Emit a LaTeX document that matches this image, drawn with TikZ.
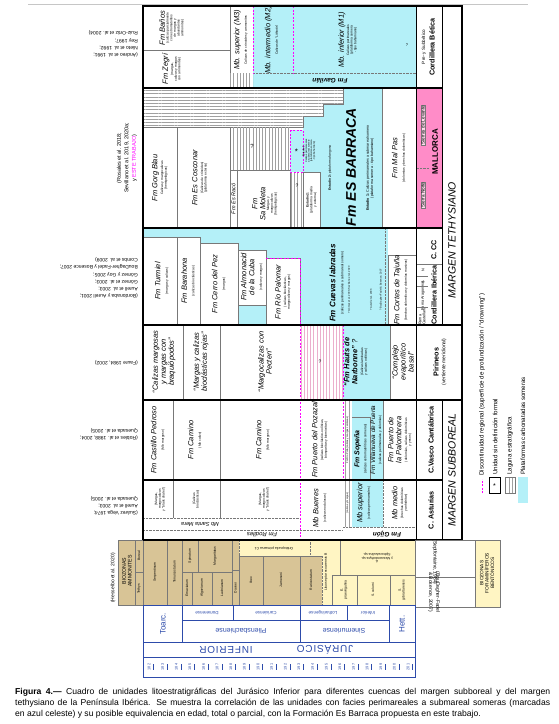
\documentclass[tikz,border=0pt]{standalone}
\usepackage{fontspec}
\setmainfont{Liberation Sans}
\usetikzlibrary{patterns.meta}
\definecolor{cyanP}{RGB}{180,240,248}
\definecolor{tanA}{RGB}{216,196,150}
\definecolor{yelF}{RGB}{255,245,195}
\definecolor{pinkM}{RGB}{255,140,200}
\definecolor{blueT}{RGB}{45,75,170}
\definecolor{magD}{RGB}{255,0,255}
\definecolor{hatchG}{RGB}{160,160,160}
\definecolor{hatchP}{RGB}{235,175,205}
\definecolor{lineG}{RGB}{120,120,120}
\newcommand\szU{\fontsize{7.5}{8}\selectfont\itshape}
\newcommand\szS{\fontsize{3.3}{3.7}\selectfont\upshape\mdseries}
\newcommand\szT{\fontsize{2.5}{2.6}\selectfont\upshape\mdseries}
\newcommand\szR{\fontsize{5}{7.3}\selectfont}
\newcommand\szB{\fontsize{7.2}{8}\selectfont\bfseries}
\newcommand\szZ{\fontsize{3.4}{3.8}\selectfont}
\newcommand\szL{\fontsize{6.2}{6.6}\selectfont}
\newcommand\subt[1]{{\szS\begin{tabular}{@{}c@{}}#1\end{tabular}}}
\tikzset{
  U/.style={rotate=90,align=center,inner sep=0,font=\szU},
  R/.style={rotate=90,align=center,inner sep=0},
  D/.style={rotate=180,align=center,inner sep=0},
  bx/.style={draw=lineG,line width=0.4pt},
  frm/.style={draw=black,line width=1.1pt},
  mag/.style={draw=magD,line width=1pt,dash pattern=on 2pt off 1.5pt},
  dotl/.style={draw=lineG,line width=0.4pt,dash pattern=on 0.6pt off 0.8pt},
  hatchV/.style={pattern={Lines[angle=90,distance=3.2pt,line width=0.35pt]},pattern color=hatchG},
  hatchPV/.style={pattern={Lines[angle=90,distance=3.2pt,line width=0.35pt]},pattern color=hatchP},
  hatchH/.style={pattern={Lines[angle=0,distance=3.2pt,line width=0.35pt]},pattern color=hatchG},
  tb/.style={draw=blueT,line width=0.6pt},
  tt/.style={text=blueT,inner sep=0},
}
\begin{document}
\begin{tikzpicture}[x=1pt,y=-1pt]
\useasboundingbox (0,0) rectangle (558,724);
\fill[white] (0,0) rectangle (558,724);
\draw[gray!45,line width=0.7pt] (28,4) -- (528,4);

% ================= BETICA (6-88)
\fill[cyanP] (253,6) rectangle (416,88);
\draw[bx] (143,50) -- (230,50);
\draw[bx] (230,6) -- (230,88);
\fill[hatchV] (230,73) rectangle (253,88);
\draw[dotl] (253,73) -- (416,73);
\draw[mag] (253,6) -- (253,73);
\draw[mag] (293,6) -- (293,73);
\node[U] (banos) at (172,28) {Fm Baños\\\subt{(calizas parcialmente\\con estromatolitos\\de margas y\\abundantes\\ammonites)}};
\node[U] (zegri) at (172,69) {Fm Zegrí\\\subt{(margas,\\calizas y margas\\con ammonites)}};
\node[U] (m3) at (241,40) {Mb. superior (M3)\\\subt{Calizas de crinoides y ammonites}};
\node[U] (m2) at (272,40) {Mb. intermedio (M2)\\\subt{Calizas de “Lithiotis”}};
\node[U] (m1) at (348,40) {Mb. inferior (M1)\\\subt{Calizas perimareales\\(plataforma somera\\- tipo bahamiano)}};
\node[D,font=\fontsize{6.5}{7}\selectfont\bfseries\itshape] (gav) at (330,81) {Fm Gavilán};
\node[inner sep=0,font=\fontsize{4}{4}\selectfont] (q1) at (407,45) {?};

% ================= MALLORCA (88-228)
\fill[cyanP] (303,88) rectangle (382,228);
\filldraw[fill=white,bx] (143,88) -- (343,88) -- (343,104) -- (323,104) -- (323,116) -- (303,116) -- (303,127) -- (143,127) -- cycle;
\fill[hatchH] (143,88) -- (343,88) -- (343,104) -- (323,104) -- (323,116) -- (303,116) -- (303,127) -- (143,127) -- cycle;
\fill[hatchV] (230,127) rectangle (290,170);
\fill[hatchV] (290,172) rectangle (303,228);
\draw[bx] (143,127) rectangle (177,228);
\draw[bx] (177,127) rectangle (230,228);
\draw[bx] (230,170) rectangle (237,228);
\draw[bx] (237,170) rectangle (290,228);
\draw[dotl] (230,170) -- (290,170);
\fill[cyanP] (290,130) rectangle (303,172);
\draw[mag] (290,130) rectangle (303,172);
\draw[mag] (303,172) -- (303,228);
\filldraw[fill=white,bx] (303,172) rectangle (320,228);
\draw[bx] (382,88) -- (382,228);
\node[U] (gorg) at (160,178) {Fm Gorg Blau\\\subt{Calizas y margocalizas\\(hemipelágicas)}};
\node[U] (cosc) at (200,178) {Fm Es Cosconar\\\subt{(Calizas de crinoides)\\(plataforma externa)}};
\node[inner sep=0,font=\fontsize{6}{6}\selectfont] (q2) at (252,146) {?};
\node[R,font=\fontsize{5.5}{6}\selectfont\itshape] (raco) at (233.5,199) {Fm Es Racó};
\node[U] (molt) at (265,204) {Fm\\Sa Moleta\\\subt{Margas y\\margocalizas\\(hemipelágicas)}};
\node[inner sep=0,font=\fontsize{5}{5}\selectfont] (q3) at (297,186) {?};
\node[inner sep=0,font=\fontsize{8}{8}\selectfont] (star) at (296.5,152) {*};
\node[R,font=\szT] (est3) at (309,151) {\textbf{Estadio 3:}\\Calizas perimareales\\a submareal somero\\(plataforma somera\\- tipo bahamiano)};
\node[R,font=\szS] (est2a) at (311.5,200) {\textbf{Estadio 2:}\\(plataforma media\\y externa)};
\node[R,font=\szS] (est2b) at (330,168) {\textbf{Estadio 2:} plataforma fangosa};
\node[R,font=\fontsize{14}{14}\selectfont\bfseries\itshape] (barr) at (351,167) {Fm ES BARRACA};
\node[R,font=\fontsize{3.6}{4.2}\selectfont] (est1) at (370,168) {\textbf{Estadio 1:} Calizas perimareales a submareal somero\\(plataforma somera - tipo bahamiano)};
\node[U] (malp) at (399,158) {Fm Mal Pas\\\subt{(dolomías y brechas dolomíticas)}};

% ================= IBERICA (228-325)
\fill[cyanP] (143,228) rectangle (388,325);
\filldraw[fill=white,bx] (143,237) rectangle (177,325);
\filldraw[fill=white,bx] (177,237) rectangle (200,325);
\filldraw[fill=white,bx] (200,243) rectangle (238,325);
\filldraw[fill=white,bx] (238,250) rectangle (266,305);
\filldraw[fill=white,bx] (266,258) rectangle (300,325);
\draw[mag] (266,258) -- (300,258) -- (300,325);
\filldraw[fill=white,bx] (388,255) rectangle (416,325);
\draw[dotl] (385,228) -- (385,325);
\node[U] (turm) at (162,281) {Fm Turmiel\\\subt{(margas y calizas)}};
\node[U] (bara) at (188.5,281) {Fm Barahona\\\subt{(calizas bioclásticas)}};
\node[U] (pez) at (219,284) {Fm Cerro del Pez\\\subt{(margas)}};
\node[U] (almo) at (252,277) {Fm Almonacid\\de la Cuba\\\subt{(calizas y margas)}};
\node[U] (palo) at (283,292) {Fm Río Palomar\\\subt{(calizas bioclásticas,\\margocalizas y margas)}};
\node[R,font=\fontsize{8}{8.5}\selectfont\bfseries\itshape] (cuev) at (337,283) {Fm Cuevas labradas\\\subt{(calizas perimareales a submareal somero)}};
\node[R,font=\szT] (rf1) at (349,290) {? Gómez et al. 2003; Sevillano et al. 2020};
\node[R,font=\szT] (rf2) at (371,300) {? Aurell et al. 2003};
\node[R,font=\szT] (rf3) at (381,290) {? BouDagher-Fadel \& Bosence, 2007};
\node[U] (cort) at (401,290) {Fm Cortes de Tajuña\\\subt{(brechas dolomíticas y dolomías masivas)}};

% ================= PIRINEOS (325-400)
\draw[bx] (183,325) -- (183,400);
\draw[bx] (220,325) -- (220,400);
\fill[hatchPV] (300,325) rectangle (343,400);
\fill[cyanP] (343,325) rectangle (390,400);
\draw[bx] (390,325) -- (390,400);
\node[U] (pir1) at (164,362) {“Calizas margosas\\y margas con\\braquiópodos”};
\node[U] (pir2) at (201,362) {“Margas y calizas\\bioclásticas rojas”};
\node[U] (pir3) at (265,362) {“Margocalizas con\\Pecten”};
\node[inner sep=0,font=\fontsize{5}{5}\selectfont] (q4) at (320,362) {?};
\node[U] (haut) at (356,362) {\textbf{“Fm Hauts de}\\\textbf{Narbonne”} ?\\\subt{(Calizas laminadas\\y calizas oolíticas)}};
\node[U] (comp) at (403,362) {“Complejo\\evaporítico\\basal”};

% ================= VASCO-CANTABRICA (400-480)
\draw[bx] (173,400) -- (173,480);
\draw[bx] (220,400) -- (220,480);
\fill[hatchV] (343,400) rectangle (352,480);
\fill[cyanP] (352,400) rectangle (383,480);
\draw[bx] (352,417) -- (370,417) -- (370,480);
\draw[bx] (383,400) -- (383,480);
\node[U] (cast) at (158,440) {Fm Castillo Pedroso\\\subt{(Mb margoso)}};
\node[U] (cam1) at (195,440) {Fm Camino\\\subt{(Mb calizo)}};
\node[U] (cam2) at (263,440) {Fm Camino\\\subt{(Mb margoso)}};
\node[U] (poza) at (320,440) {Fm Puerto del Pozazal\\\subt{(calizas bioclástico-oolíticas,\\biosparitas y biomicritas)}};
\node[R,font=\szT] (polla) at (347.5,440) {Fm Río Polla (calizas y margas calcáreas)};
\node[R,font=\fontsize{7}{7.5}\selectfont\bfseries\itshape] (sope) at (361,449) {Fm Sopeña\\\subt{(calizas estromatolíticas someras)}};
\node[R,font=\fontsize{6.3}{6.5}\selectfont\itshape] (vill) at (376.5,440) {Fm Villanueva de Puerta\\\subt{(calizas perimareales y dolomías)}};
\node[U] (palb) at (400,440) {Fm Puerto de\\la Palombrera\\\subt{(dolomías, calizas dolomíticas\\y yesos)}};

% ================= ASTURIAS (480-540)
\draw[bx] (173,480) -- (173,518);
\draw[bx] (220,480) -- (220,518);
\draw[dotl] (143,518) -- (300,518);
\draw[dotl] (143,530) -- (343,530);
\fill[hatchV] (343,480) rectangle (352,527);
\fill[cyanP] (352,480) rectangle (383,527);
\draw[dotl] (383,480) -- (383,527);
\draw[dotl] (343,527) -- (416,527);
\node[R,font=\szS] (ast1) at (160,499) {(Margas,\\margocalizas\\y “black shales”)};
\node[R,font=\szS] (ast2) at (196,499) {(Calizas\\bioclásticas)};
\node[R,font=\szS] (ast3) at (264,499) {(Margas,\\margocalizas\\y “black shales”)};
\node[D,font=\fontsize{5.5}{6}\selectfont\itshape] (smera) at (200,524) {Mb Santa Mera};
\node[D,font=\fontsize{6}{6}\selectfont\itshape] (rodi) at (262,535) {Fm Rodiles};
\node[U] (buer) at (320,508) {Mb Buerres\\\subt{(calizas nodulosas)}};
\node[R,font=\szT] (astr) at (347.5,503) {(calizas y margas)};
\node[U] (msup) at (364,503) {Mb superior\\\subt{(calizas perimareales)}};
\node[U] (mmed) at (400,503) {Mb medio\\\subt{(brechas dolomíticas\\y anhidritas)}};
\node[D,font=\fontsize{6.5}{7}\selectfont\bfseries\itshape] (gijo) at (387,534) {Fm Gijón};

% ================= magenta discontinuities (lower rows)
\draw[mag] (300,325) -- (300,540);
\draw[mag] (343,325) -- (343,480);

% ================= label & margin columns
\fill[pinkM] (416,88) rectangle (442,228);
\node[R,font=\fontsize{4.6}{5}\selectfont] (preb) at (424,47) {Pre- y Subbético};
\node[R,font=\szB] (beti) at (432,47) {Cordillera Bética};
\node[R,font=\fontsize{4.6}{5}\selectfont,fill=white!70!pinkM,draw=lineG,inner sep=0.6pt] (snor) at (423,195) {Sierra Norte};
\node[R,font=\fontsize{4.6}{5}\selectfont,fill=white!70!pinkM,draw=lineG,inner sep=0.6pt] (slev) at (423,125) {Sierras de Levante};
\draw[dotl] (417,168) -- (429,168);
\node[R,font=\fontsize{8}{8}\selectfont\bfseries] (mall) at (435,152) {MALLORCA};
\node[R,font=\fontsize{3.8}{4}\selectfont,align=left] (rcas) at (422,316) {Rama\\Castellana};
\node[R,font=\fontsize{3.8}{4}\selectfont] (rara) at (423,296) {Rama Aragonesa};
\node[R,font=\fontsize{3.8}{4}\selectfont] (rs) at (423,282) {S};
\node[R,font=\fontsize{3.8}{4}\selectfont] (rn) at (423,270) {N};
\draw[bx] (416,307) -- (428,307);
\draw[bx] (416,286) -- (428,286);
\draw[bx] (416,276) -- (428,276);
\draw[bx] (416,264) -- (442,264);
\node[R,font=\szB] (iber) at (434,295) {Cordillera Ibérica};
\node[R,font=\szB] (ccc) at (434,250) {C. CC};
\node[R,font=\szB] (piri) at (436,362) {Pirineos};
\node[R,font=\fontsize{5}{5.5}\selectfont] (pirv) at (444,362) {(vertiente meridional)};
\node[R,font=\szB] (vasc) at (431,440) {C.Vasco Cantábrica};
\node[R,font=\szB] (astu) at (431,510) {C. Asturias};
\node[R,font=\fontsize{10.5}{11}\selectfont\itshape] (mtet) at (452,240) {MARGEN TETHYSIANO};
\node[R,font=\fontsize{10.5}{11}\selectfont\itshape] (msub) at (452,470) {MARGEN SUBBOREAL};

% ================= frame & separators
\foreach \yy in {88,228} \draw[frm] (143,\yy) -- (442,\yy);
\foreach \yy in {325,400} \draw[frm] (143,\yy) -- (462,\yy);
\draw[frm] (143,480) -- (442,480);
\draw[black,line width=0.5pt] (416,6) -- (416,540);
\draw[black,line width=0.5pt] (442,6) -- (442,325);
\draw[black,line width=0.5pt] (442,400) -- (442,540);
\draw[frm] (143,6) rectangle (462,540);

% ================= biozones
\fill[tanA] (118,540) rectangle (322,605);
\fill[yelF] (322,540) rectangle (415,605);
\fill[yelF] (239,540) rectangle (322,556);
\draw[bx] (118,540) rectangle (143,605);
\draw[bx] (135,540) -- (135,605);
\draw[bx] (135,572) -- (143,572);
\node[R,font=\fontsize{5.2}{5.8}\selectfont] (bam) at (127,571) {BIOZONAS\\AMMONITES};
\node[R,font=\szZ] (tet) at (139,589) {Tethys};
\node[R,font=\szZ] (bor) at (139,556) {Boreal};
\node[R,font=\szR] (hess) at (113,578) {(Hesselbo et al. 2020)};
\draw[bx] (143,540) rectangle (167,605);
\draw[bx] (167,540) rectangle (182,605);
\draw[bx] (182,540) rectangle (198,572);
\draw[bx] (198,540) rectangle (232,572);
\draw[bx] (182,572) rectangle (192,605);
\draw[bx] (192,572) rectangle (212,605);
\draw[bx] (212,572) rectangle (232,605);
\draw[bx] (232,570) rectangle (239,605);
\draw[bx] (239,556) rectangle (263,605);
\draw[bx] (263,556) rectangle (300,605);
\draw[bx] (300,556) -- (322,556);
\draw[dotl] (322,556) -- (322,605);
\draw[dotl] (239,540) rectangle (310,556);
\draw[bx] (340,540) -- (340,575);
\draw[bx] (332,575) -- (415,575);
\draw[bx] (332,575) -- (332,605);
\draw[bx] (357,575) -- (357,605);
\draw[bx] (390,575) -- (390,605);
\node[R,font=\szZ] (z1) at (155,572) {Serpentinum};
\node[R,font=\szZ] (z2) at (174.5,572) {Tenuicostatum};
\node[R,font=\szZ] (z3) at (190,556) {Spinatum};
\node[R,font=\szZ] (z4) at (215,556) {Margaritatus};
\node[R,font=\szZ] (z5) at (187,588) {Emaciatum};
\node[R,font=\szZ] (z6) at (202,588) {Algovianum};
\node[R,font=\szZ] (z7) at (222,588) {Lavinianum};
\node[R,font=\szZ] (z8) at (235.5,588) {Davoei};
\node[R,font=\szZ] (z9) at (251,580) {Ibex};
\node[R,font=\szZ] (z10) at (281,580) {Jamesoni};
\node[R,font=\szZ] (z11) at (311,580) {Raricostatum};
\node[D,font=\szZ] (f1) at (274,548) {Orbitopsella primaeva C1};
\node[R,font=\szZ] (f2) at (326,572) {Lituosepta recoarensis B};
\node[D,font=\szZ] (f3) at (377,558) {A\\y Mesoendothyra sp.\\Siphovalvulina sp.};
\node[R,font=\szZ] (f4) at (344,590) {E.\\praevirgulina};
\node[R,font=\szZ] (f5) at (373,590) {S. colomi};
\node[R,font=\szZ] (f6) at (402,590) {S.\\gibraltarensis};
\draw[black,line width=0.5pt] (143,540) -- (415,540);
% foraminifer header
\fill[yelF] (475,540) rectangle (500,607);
\draw[bx] (415,540) rectangle (500,607);
\draw[bx] (475,540) -- (475,607);
\draw[bx] (415,577) -- (475,577);
\node[R,font=\fontsize{4.8}{5.4}\selectfont] (bfor) at (487,573) {BIOZONAS\\FORAMINÍFEROS\\BENTÓNICOS};
\node[rotate=-90,inner sep=0,font=\szR] (sept) at (435,562) {(Septfontaine, 1984)};
\node[rotate=-90,inner sep=0,align=center,font=\szR] (boud) at (434,592) {(BouDagher-Fadel\\\& Bosence, 2007)};

% ================= time scale
\draw[tb] (143,605) rectangle (415,677);
\draw[tb] (182,605) -- (182,642);
\draw[tb] (389,605) -- (389,642);
\draw[tb] (182,620) -- (389,620);
\draw[tb] (233,605) -- (233,620);
\draw[tb] (300,605) -- (300,642);
\draw[tb] (347,605) -- (347,620);
\draw[tb] (143,642) -- (415,642);
\draw[tb] (143,657) -- (415,657);
\node[R,tt,font=\fontsize{8}{8}\selectfont] (toar) at (163,624) {Toarc.};
\node[R,tt,font=\fontsize{8}{8}\selectfont] (hett) at (402,624) {Hett.};
\node[D,tt,font=\fontsize{4.5}{5}\selectfont] (dome) at (207,613) {Domerense};
\node[D,tt,font=\fontsize{4.5}{5}\selectfont] (cari) at (266,613) {Carixiense};
\node[D,tt,font=\fontsize{4.5}{5}\selectfont] (loth) at (323,613) {Lotharingense};
\node[D,tt,font=\fontsize{4.5}{5}\selectfont] (infe) at (368,613) {Inferior};
\node[D,tt,font=\fontsize{7}{7}\selectfont] (plie) at (241,631) {Pliensbachiense};
\node[D,tt,font=\fontsize{7}{7}\selectfont] (sine) at (344,631) {Sinemuriense};
\node[D,tt,font=\fontsize{10}{10}\selectfont\addfontfeature{LetterSpace=8}] (infr) at (226,650) {INFERIOR};
\node[D,tt,font=\fontsize{10}{10}\selectfont\addfontfeature{LetterSpace=8}] (jura) at (325,650) {JURÁSICO};
\foreach \a [count=\i from 0] in {182,...,201} {
  \node[R,tt,font=\fontsize{3.8}{4}\selectfont] (num\a) at ({149+\i*13.63},667) {\a};
  \draw[blueT,line width=0.3pt] ({149+\i*13.63+4.5},664) -- ++(0,6);
}

% ================= references (left)
\node[D,align=left,anchor=west,font=\szR] (rb) at (138,44) {(Andreo et al. 1991;\\Nieto et al. 1992;\\Rey 1997;\\Ruiz-Ortiz et al. 2004)};
\node[R,font=\fontsize{5.5}{7.5}\selectfont] (rm) at (127,158) {(Rosales et al. 2018;\\Sevillano et al. 2019, 2020a;\\y \textcolor{magD}{ESTE TRABAJO})};
\node[D,align=left,anchor=west,font=\szR] (ri) at (138,278) {(Bordonaba y Aurell 2001;\\Aurell et al. 2003;\\Gómez et al. 2003;\\Gómez y Goy 2005;\\BouDagher-Fadel y Bosence 2007;\\Combs et al. 2009)};
\node[D,align=left,anchor=west,font=\szR] (rp) at (138,363) {(Faure 1984, 2002)};
\node[D,align=left,anchor=west,font=\szR] (rv) at (138,434) {(Robles et al. 1988, 2004;\\Quesada et al. 2005)};
\node[D,align=left,anchor=west,font=\szR] (ra) at (138,506) {(Suárez Vega 1974;\\Aurell et al. 2003;\\Quesada et al. 2005)};

% ================= legend
\draw[mag] (482,493) -- (482,479);
\node[R,anchor=west,font=\szL] (lg1) at (482,476) {Discontinuidad regional (superficie de profundización / “drowning”)};
\draw[black,line width=0.4pt] (489,477) rectangle (500,493);
\node[inner sep=0,font=\fontsize{7}{7}\selectfont] (lgs) at (494.5,486) {*};
\node[R,anchor=west,font=\szL] (lg2) at (495,475) {Unidad sin definición formal};
\fill[hatchV] (505,477) rectangle (515,493);
\draw[lineG,line width=0.4pt] (505,477) rectangle (515,493);
\node[R,anchor=west,font=\szL] (lg3) at (510,475) {Laguna estratigráfica};
\fill[cyanP] (518,477) rectangle (528,503);
\node[R,anchor=west,font=\szL] (lg4) at (523,475) {Plataformas carbonatadas someras};

% ================= caption
\node[anchor=north west,text width=535pt,align=justify,inner sep=0,font=\fontsize{8.6}{11.2}\selectfont] (cap) at (15,688) {\textbf{Figura 4.—} Cuadro de unidades litoestratigráficas del Jurásico Inferior para diferentes cuencas del margen subboreal y del margen\linebreak tethysiano de la Península Ibérica. Se muestra la correlación de las unidades con facies perimareales a submareal someras (marcadas\linebreak en azul celeste) y su posible equivalencia en edad, total o parcial, con la Formación Es Barraca propuesta en este trabajo.};
\end{tikzpicture}
\end{document}
